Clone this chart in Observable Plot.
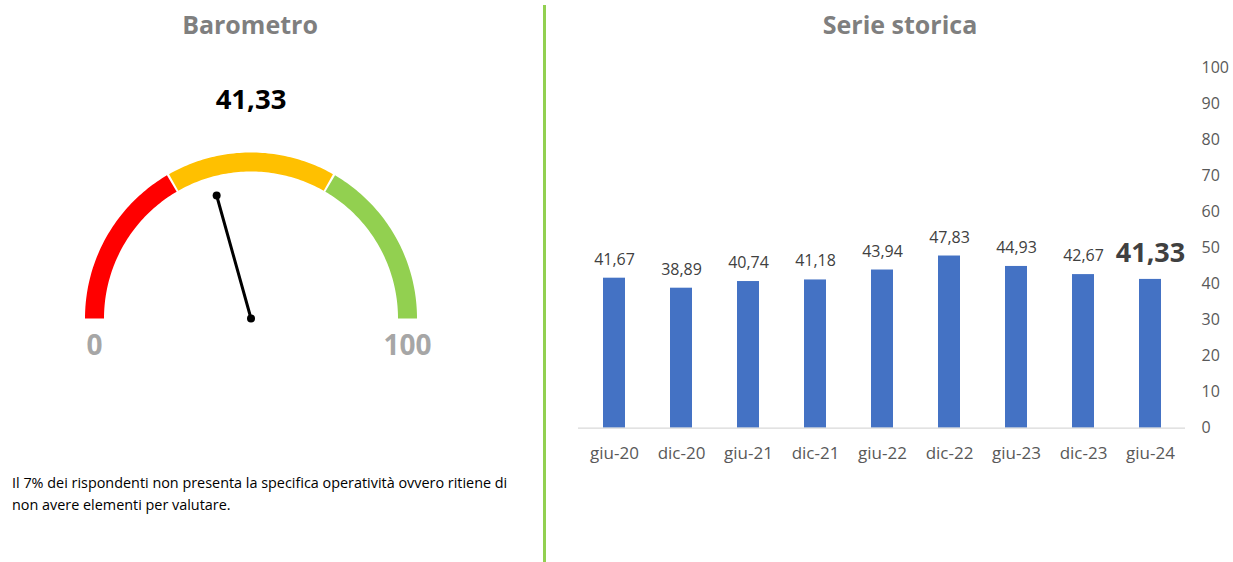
<!DOCTYPE html>
<html>
<head>
<meta charset="utf-8">
<script src="https://cdn.jsdelivr.net/npm/d3@7"></script>
<script src="https://cdn.jsdelivr.net/npm/@observablehq/plot@0.6"></script>
<style>
  html, body { margin: 0; padding: 0; background: #fff; }
  body { width: 1233px; height: 562px; position: relative; overflow: hidden; font-family: "Open Sans", "Noto Sans", sans-serif; }
  .abs { position: absolute; }
  .title { font-weight: 700; font-size: 25px; color: #7f7f7f; line-height: 1; text-align: center; width: 300px; }
  #divider { position: absolute; left: 543px; top: 5px; width: 3px; height: 557px; background: #92d050; }
  #note { left: 12px; top: 472px; font-size: 14.4px; line-height: 22px; color: #000; white-space: nowrap; }
  svg { overflow: visible; }
</style>
</head>
<body>
<div class="abs title" id="t1" style="left:100px; top:12px;">Barometro</div>
<div class="abs title" id="t2" style="left:750px; top:12px;">Serie storica</div>
<div id="divider"></div>
<div class="abs" id="gauge" style="left:0; top:0;"></div>
<div class="abs" id="bars" style="left:545px; top:0;"></div>
<div class="abs" id="note">Il 7% dei rispondenti non presenta la specifica operatività ovvero ritiene di<br>non avere elementi per valutare.</div>
<script>
// ---- Data ----
const currentValue = 41.33;
const gaugeMin = 0;
const gaugeMax = 100;
const gaugeThresholds = [0, 33.33, 66.67, 100];
const gaugeColors = ["#ff0000", "#ffc000", "#92d050"];

const periods = ["giu-20", "dic-20", "giu-21", "dic-21", "giu-22", "dic-22", "giu-23", "dic-23", "giu-24"];
const scores = [41.67, 38.89, 40.74, 41.18, 43.94, 47.83, 44.93, 42.67, 41.33];
const yTicks = [0, 10, 20, 30, 40, 50, 60, 70, 80, 90, 100];

const fmt = v => v.toFixed(2).replace(".", ",");
const FONT = '"Open Sans", "Noto Sans", sans-serif';

// ---- Gauge ----
const GW = 545, GH = 562, CX = 250.5, CY = 318, RMID = 156.5;
const angle = v => Math.PI * (1 - (v - gaugeMin) / (gaugeMax - gaugeMin));
const arcPts = [];
const gap = 0.22;
for (let s = 0; s < gaugeColors.length; s++) {
  const a = gaugeThresholds[s] + (s > 0 ? gap : 0);
  const b = gaugeThresholds[s + 1] - (s < gaugeColors.length - 1 ? gap : 0);
  const n = 60;
  for (let i = 0; i <= n; i++) {
    const v = a + (b - a) * i / n;
    arcPts.push({seg: s, x: Math.cos(angle(v)), y: Math.sin(angle(v))});
  }
}
const needleLen = 0.816;
const needle = [
  {x: 0, y: 0},
  {x: needleLen * Math.cos(angle(currentValue)), y: needleLen * Math.sin(angle(currentValue))}
];
const endLabels = [
  {x: Math.cos(angle(gaugeMin)), y: 0, t: String(gaugeMin)},
  {x: Math.cos(angle(gaugeMax)), y: 0, t: String(gaugeMax)}
];

const gauge = Plot.plot({
  width: GW, height: GH,
  marginTop: 0, marginBottom: 0, marginLeft: 0, marginRight: 0,
  style: {fontFamily: FONT, background: "transparent"},
  x: {domain: [-CX / RMID, (GW - CX) / RMID], range: [0, GW], axis: null},
  y: {domain: [-(GH - CY) / RMID, CY / RMID], range: [GH, 0], axis: null},
  color: {type: "ordinal", domain: [0, 1, 2], range: gaugeColors},
  marks: [
    Plot.line(arcPts, {x: "x", y: "y", z: "seg", stroke: d => d.seg, strokeWidth: 19, strokeLinecap: "butt", curve: "linear"}),
    Plot.line(needle, {x: "x", y: "y", stroke: "#000", strokeWidth: 3}),
    Plot.dot(needle, {x: "x", y: "y", r: 4, fill: "#000"}),
    Plot.text(endLabels, {x: "x", y: "y", text: "t", dy: 28, fontSize: 28, fontWeight: 700, fill: "#a6a6a6"}),
    Plot.text([currentValue], {x: () => 0, frameAnchor: "top", dy: 108.5, lineAnchor: "bottom", text: d => fmt(d), fontSize: 27.5, fontWeight: 700, fill: "#000"})
  ]
});
document.getElementById("gauge").appendChild(gauge);

// ---- Bars ----
const table = periods.map((p, i) => ({period: p, value: scores[i], last: i === periods.length - 1}));
const bars = Plot.plot({
  width: 688, height: 562,
  marginTop: 67.7, marginBottom: 134.3, marginLeft: 33, marginRight: 48,
  style: {fontFamily: FONT, background: "transparent", fontSize: "16px"},
  x: {domain: periods, paddingInner: 0.678, paddingOuter: 0.342, axis: null, label: null},
  y: {domain: [0, 100], axis: null, label: null},
  marks: [
    Plot.barY(table, {x: "period", y: "value", fill: "#4472c4"}),
    Plot.ruleY([0], {stroke: "#d9d9d9", strokeWidth: 1.2}),
    Plot.axisY(yTicks, {anchor: "right", tickSize: 0, tickPadding: 16, fontSize: 16, color: "#595959", tickFormat: d => String(d), label: null}),
    Plot.axisX({tickSize: 0, tickPadding: 19, fontSize: 17, color: "#595959", label: null}),
    Plot.text(table.filter(d => !d.last), {x: "period", y: "value", text: d => fmt(d.value), dy: -13.5, lineAnchor: "bottom", fontSize: 16, fill: "#404040"}),
    Plot.text(table.filter(d => d.last), {x: "period", y: "value", text: d => fmt(d.value), dy: -17, lineAnchor: "bottom", fontSize: 27, fontWeight: 700, fill: "#404040"})
  ]
});
document.getElementById("bars").appendChild(bars);
</script>
</body>
</html>
